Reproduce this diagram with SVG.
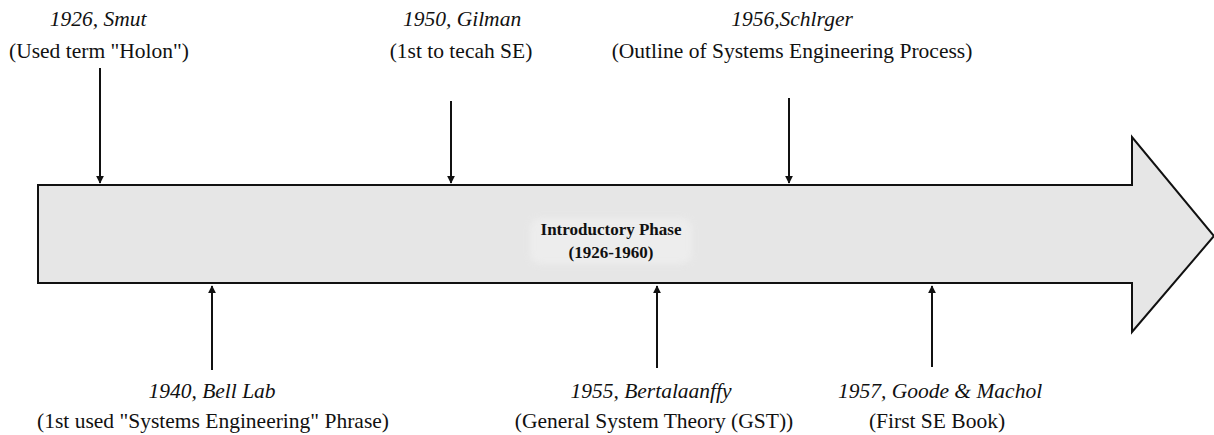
<svg xmlns="http://www.w3.org/2000/svg" width="1214" height="435" viewBox="0 0 1214 435">
  <defs>
    <style>
      text { font-family: "Liberation Serif", Tinos, "Times New Roman", "DejaVu Serif", serif; fill: #111; text-anchor: middle; }
      .yr { font-style: italic; font-size: 21.5px; }
      .ds { font-size: 21.5px; }
      .ph { font-weight: bold; font-size: 17px; }
      .lead { stroke: #111; stroke-width: 2; fill: none; }
    </style>
    <marker id="tip" viewBox="0 0 10 10" refX="9" refY="5" markerWidth="4" markerHeight="4.5" orient="auto" markerUnits="strokeWidth">
      <path d="M0,0 L10,5 L0,10 z" fill="#111"/>
    </marker>
    <filter id="soft" x="-5%" y="-20%" width="110%" height="140%">
      <feGaussianBlur stdDeviation="3"/>
    </filter>
  </defs>

  <rect width="1214" height="435" fill="#ffffff"/>

  <!-- timeline block arrow -->
  <g id="phase-arrow">
    <path d="M38,185 L1132,185 L1132,137 L1214,236 L1132,332 L1132,283 L38,283 Z" fill="#e6e6e6" stroke="#111" stroke-width="2" stroke-linejoin="miter"/>
    <rect x="530" y="218" width="162" height="46" rx="10" fill="#f0f0f0" filter="url(#soft)" opacity="0.7"/>
    <text class="ph" x="611" y="235">Introductory Phase</text>
    <text class="ph" x="611" y="258">(1926-1960)</text>
  </g>

  <!-- milestones above the timeline -->
  <g id="smut">
    <text class="yr" x="98" y="26">1926, Smut</text>
    <text class="ds" x="99" y="58">(Used term "Holon")</text>
  </g>
  <g id="gilman">
    <text class="yr" x="462" y="26">1950, Gilman</text>
    <text class="ds" x="461" y="58">(1st to tecah SE)</text>
  </g>
  <g id="schlrger">
    <text class="yr" x="792" y="26">1956,Schlrger</text>
    <text class="ds" x="792" y="58">(Outline of Systems Engineering Process)</text>
  </g>

  <!-- milestones below the timeline -->
  <g id="bell-lab">
    <text class="yr" x="212" y="398">1940, Bell Lab</text>
    <text class="ds" x="213" y="428">(1st used "Systems Engineering" Phrase)</text>
  </g>
  <g id="bertalaanffy">
    <text class="yr" x="651" y="398">1955, Bertalaanffy</text>
    <text class="ds" x="654" y="428">(General System Theory (GST))</text>
  </g>
  <g id="goode-machol">
    <text class="yr" x="940" y="398">1957, Goode &amp; Machol</text>
    <text class="ds" x="937" y="428">(First SE Book)</text>
  </g>

  <!-- pointers to the timeline -->
  <g id="connectors">
    <line class="lead" x1="100" y1="68" x2="100" y2="183" marker-end="url(#tip)"/>
    <line class="lead" x1="451" y1="101" x2="451" y2="183" marker-end="url(#tip)"/>
    <line class="lead" x1="789" y1="98" x2="789" y2="183" marker-end="url(#tip)"/>
    <line class="lead" x1="212" y1="370" x2="212" y2="286" marker-end="url(#tip)"/>
    <line class="lead" x1="657" y1="368" x2="657" y2="286" marker-end="url(#tip)"/>
    <line class="lead" x1="932" y1="367" x2="932" y2="286" marker-end="url(#tip)"/>
  </g>
</svg>
